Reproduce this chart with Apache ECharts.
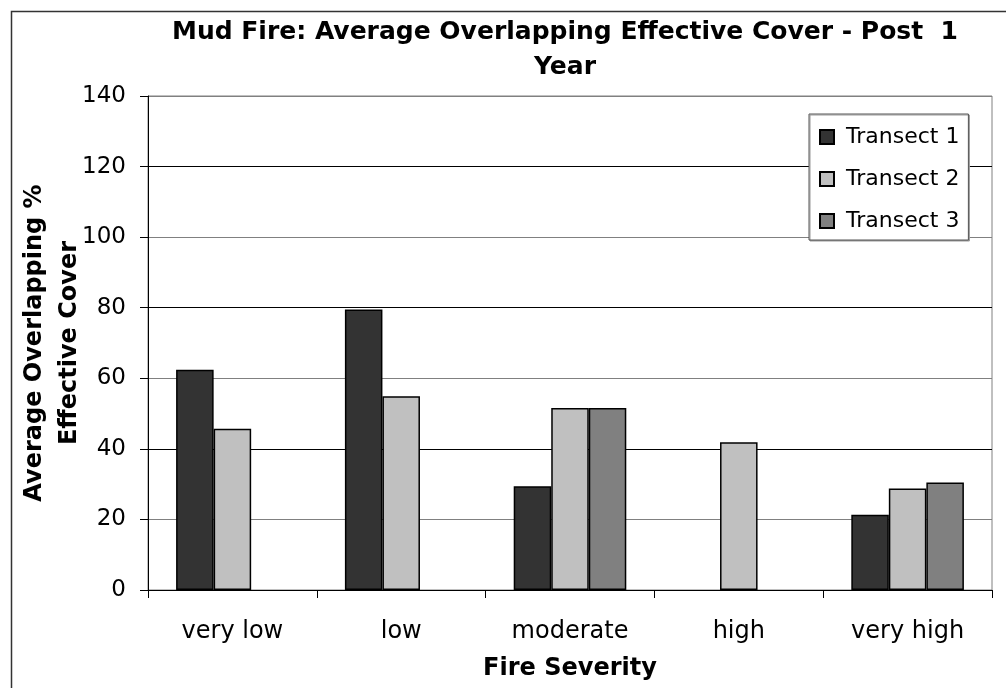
<!DOCTYPE html>
<html>
<head>
<meta charset="utf-8">
<script src="https://cdn.jsdelivr.net/npm/echarts@6/dist/echarts.min.js"></script>
<style>
  html, body { margin: 0; padding: 0; background: #fff; }
  #chart { width: 1006px; height: 688px; }
</style>
</head>
<body>
<div id="chart"></div>
<script>
const categories = ["very low", "low", "moderate", "high", "very high"];
const transect1 = [62.4, 79.5, 29.4, null, 21.3];
const transect2 = [45.7, 54.9, 51.6, 41.9, 28.8];
const transect3 = [null, null, 51.6, null, 30.5];
const yTicks = [0, 20, 40, 60, 80, 100, 120, 140];

// the source picture is stretched sideways, DejaVu's wider glyphs fit it better than Arial
const font = "'DejaVu Sans', 'Liberation Sans', Arial, sans-serif";
const palette = ["#333333", "#c0c0c0", "#808080"];

const chart = echarts.init(document.getElementById("chart"));

const bar = (name, data, color) => ({
  name,
  type: "bar",
  data,
  barGap: "0%",
  barCategoryGap: "33.3%",
  itemStyle: { color, borderColor: "#000", borderWidth: 1.5 },
  silent: true,
});

chart.setOption({
  animation: false,
  textStyle: { fontFamily: font },
  title: {
    text: "Mud Fire: Average Overlapping Effective Cover - Post  1\nYear",
    left: 560,
    top: 10,
    textAlign: "center",
    textStyle: { fontFamily: font, fontSize: 25, fontWeight: "bold", color: "#000", lineHeight: 35 },
  },
  legend: {
    orient: "vertical",
    left: 809,
    top: 114,
    padding: [12, 9, 8, 10],
    itemWidth: 14,
    itemHeight: 14,
    itemGap: 20,
    backgroundColor: "#fff",
    borderColor: "#555",
    borderWidth: 1,
    shadowColor: "#999",
    shadowOffsetX: 1,
    shadowOffsetY: 1,
    icon: "rect",
    textStyle: { fontFamily: font, fontSize: 22, color: "#000", padding: [0, 0, 0, 7] },
    data: ["Transect 1", "Transect 2", "Transect 3"],
  },
  grid: {
    left: 148,
    right: 14,
    top: 96,
    bottom: 98,
    containLabel: false,
    outerBoundsMode: "none",
    show: true,
    borderColor: "#808080",
    borderWidth: 1,
  },
  xAxis: {
    type: "category",
    data: categories,
    name: "Fire Severity",
    nameLocation: "middle",
    nameGap: 67,
    nameMoveOverlap: false,
    nameTextStyle: { fontFamily: font, fontSize: 24, fontWeight: "bold", color: "#000" },
    axisLine: { lineStyle: { color: "#000", width: 1 } },
    axisTick: { show: true, length: 8, lineStyle: { color: "#000" } },
    axisLabel: { fontFamily: font, fontSize: 24, color: "#000", margin: 30 },
  },
  yAxis: {
    type: "value",
    min: yTicks[0],
    max: yTicks[yTicks.length - 1],
    interval: 20,
    name: "Average Overlapping %\nEffective Cover",
    nameLocation: "middle",
    nameRotate: 90,
    nameGap: 61,
    nameMoveOverlap: false,
    nameTextStyle: { fontFamily: font, fontSize: 24, fontWeight: "bold", color: "#000", lineHeight: 35 },
    axisLine: { show: true, lineStyle: { color: "#000", width: 1 } },
    axisTick: { show: true, length: 8, lineStyle: { color: "#000" } },
    axisLabel: { fontFamily: font, fontSize: 23, color: "#000", margin: 22 },
    splitLine: { show: true, lineStyle: { color: ["#000", "#808080"], width: 1 } },
  },
  graphic: [
    {
      type: "rect",
      left: 9,
      top: 9,
      shape: { width: 1100, height: 1000 },
      style: { fill: "none", stroke: "#333", lineWidth: 1.5 },
      silent: true,
    },
  ],
  series: [
    bar("Transect 1", transect1, palette[0]),
    bar("Transect 2", transect2, palette[1]),
    bar("Transect 3", transect3, palette[2]),
  ],
});
</script>
</body>
</html>
